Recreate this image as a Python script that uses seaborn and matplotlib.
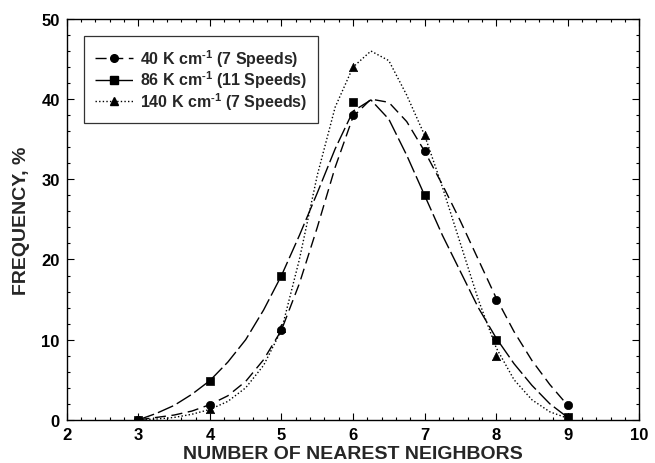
import numpy as np
import pandas as pd
import seaborn as sns
import matplotlib
matplotlib.use("Agg")
import matplotlib.pyplot as plt
from matplotlib.lines import Line2D
from matplotlib.ticker import MultipleLocator

# ---- measured points ----
neighbors = [3, 4, 5, 6, 7, 8, 9]
freq_40 = [0.0, 1.9, 11.2, 38.0, 33.5, 15.0, 1.9]
freq_86 = [0.0, 4.9, 18.0, 39.6, 28.0, 10.0, 0.3]
freq_140 = [0.0, 1.4, 11.5, 44.0, 35.5, 8.0, 0.3]

# ---- fitted curves ----
curve_x = [3.0, 3.25, 3.5, 3.75, 4.0, 4.25, 4.5, 4.75, 5.0, 5.25, 5.5, 5.75,
           6.0, 6.25, 6.5, 6.75, 7.0, 7.25, 7.5, 7.75, 8.0, 8.25, 8.5, 8.75, 9.0]
curve_40 = [0.0, 0.3, 0.6, 1.1, 1.9, 3.0, 4.8, 7.5, 11.2, 17.0, 24.0, 31.5,
            37.8, 40.0, 39.6, 37.2, 33.5, 29.3, 24.8, 20.0, 15.2, 11.0, 7.4, 4.4, 1.8]
curve_86 = [0.0, 0.8, 1.8, 3.2, 4.9, 7.2, 10.0, 13.7, 18.0, 23.0, 28.3, 33.8,
            38.5, 39.9, 37.5, 33.0, 28.0, 23.0, 18.5, 14.0, 10.2, 7.0, 4.3, 2.0, 0.3]
curve_140 = [0.0, 0.1, 0.3, 0.7, 1.3, 2.3, 4.0, 6.8, 11.2, 20.0, 30.5, 39.0,
             44.0, 46.0, 44.8, 40.5, 35.5, 29.0, 22.0, 15.0, 9.0, 5.0, 2.5, 1.0, 0.2]

labels = ["40 K cm$^{\\mathbf{\\text{-}1}}$ (7 Speeds)",
          "86 K cm$^{\\mathbf{\\text{-}1}}$ (11 Speeds)",
          "140 K cm$^{\\mathbf{\\text{-}1}}$ (7 Speeds)"]

sns.set_style("ticks")
plt.rcParams['font.family'] = ['Liberation Sans', 'DejaVu Sans']
plt.rcParams['mathtext.fontset'] = 'custom'
plt.rcParams['mathtext.bf'] = 'Liberation Sans:bold'
plt.rcParams['mathtext.rm'] = 'Liberation Sans:bold'

fig = plt.figure(figsize=(6.55, 4.64), dpi=100)
ax = fig.add_axes([0.102, 0.093, 0.874, 0.864])

styles = [
    dict(dashes=(8, 4), marker='o'),
    dict(dashes=(12, 3), marker='s'),
    dict(dashes=(1, 1.6), marker='^'),
]
curves = [curve_40, curve_86, curve_140]
points = [freq_40, freq_86, freq_140]

handles = []
for cy, py, st in zip(curves, points, styles):
    dfc = pd.DataFrame({"x": curve_x, "y": cy})
    sns.lineplot(data=dfc, x="x", y="y", ax=ax, color='black', lw=1.0,
                 legend=False)
    ax.lines[-1].set_dashes(st['dashes'])
    dfp = pd.DataFrame({"x": neighbors, "y": py})
    sns.scatterplot(data=dfp, x="x", y="y", ax=ax, color='black',
                    marker=st['marker'], s=36, edgecolor='black', linewidth=0.5,
                    legend=False, zorder=3)
    h = Line2D([], [], color='black', lw=1.0, marker=st['marker'],
               markersize=5.5, dashes=st['dashes'])
    handles.append(h)

ax.set_xlim(2, 10)
ax.set_ylim(0, 50)
ax.xaxis.set_major_locator(MultipleLocator(1))
ax.xaxis.set_minor_locator(MultipleLocator(0.2))
ax.yaxis.set_major_locator(MultipleLocator(10))
ax.yaxis.set_minor_locator(MultipleLocator(2))
ax.tick_params(which='both', direction='in', top=True, right=True,
               colors='black', width=0.8)
ax.tick_params(which='major', length=5, labelsize=12, pad=5)
ax.tick_params(which='minor', length=2.5)
for sp in ax.spines.values():
    sp.set_visible(True)
    sp.set_linewidth(1.0)
    sp.set_color('black')
for t in ax.get_xticklabels() + ax.get_yticklabels():
    t.set_fontweight('bold')

ax.set_xlabel("NUMBER OF NEAREST NEIGHBORS", fontsize=14, fontweight='bold',
              labelpad=2)
ax.set_ylabel("FREQUENCY, %", fontsize=14, fontweight='bold', labelpad=8)

leg = ax.legend(handles, labels, loc='upper left', bbox_to_anchor=(0.03, 0.958),
                borderaxespad=0, frameon=True, fancybox=False, edgecolor='black',
                prop={'weight': 'bold', 'size': 11.5}, handlelength=2.4,
                borderpad=0.7, labelspacing=0.0, handletextpad=0.4)
leg.get_frame().set_linewidth(0.9)

fig.savefig("out.png", dpi=100)
